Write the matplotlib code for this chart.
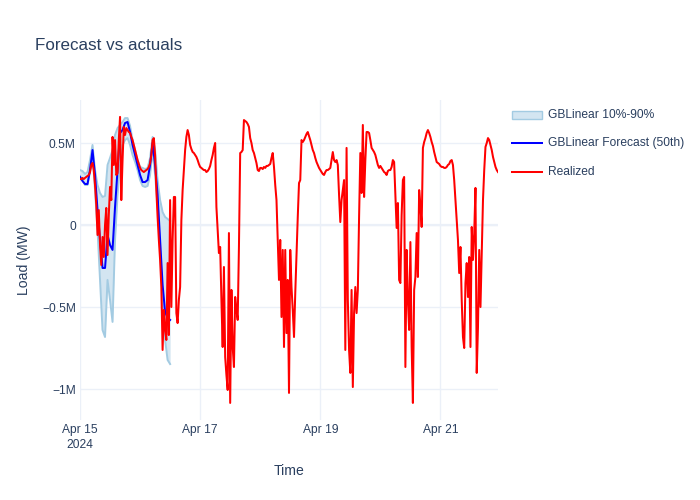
import matplotlib
matplotlib.use("Agg")
import matplotlib.pyplot as plt
from matplotlib.lines import Line2D
from matplotlib.patches import Rectangle
import pandas as pd
import numpy as np

# ---------------- data (values in thousands of MW) ----------------
start = "2024-04-15 00:00"
# realized load, half-hourly, one row per day
realized_d1 = [280, 280, 287, 280, 287, 293, 299, 305, 323, 366, 378, 335, 244, 122, -61, 91,
               -122, -244, -73, -195, 0, 104, -183, 61, 232, 152, 537, 366, 518, 305, 317, 518,
               659, 152, 396, 598, 549, 591, 579, 567, 561, 537, 518, 488, 457, 427, 396, 372]
realized_d2 = [348, 335, 329, 323, 329, 335, 341, 354, 378, 427, 518, 530, 427, 213, 49, -91,
               -213, -378, -762, -518, -640, -701, -232, -671, 152, -500, -91, 171, 171, -537, -598, -457,
               -378, 30, 213, 335, 457, 537, 579, 549, 488, 463, 445, 439, 427, 415, 396, 372]
realized_d3 = [354, 348, 341, 335, 335, 323, 329, 341, 360, 396, 427, 470, 500, 110, -30, -171,
               -134, -457, -744, -256, -805, -915, -1006, -49, -1085, -396, -744, -866, -439, -518, -579, -134,
               439, 445, 457, 640, 634, 628, 616, 598, 530, 500, 457, 439, 409, 378, 335, 329]
realized_d4 = [348, 348, 341, 354, 348, 360, 360, 366, 372, 409, 439, 354, 244, 152, -91, -335,
               -91, -561, -152, -744, -152, -659, -335, -1024, -152, -378, -518, -683, -415, -183, 49, 256,
               274, 518, 506, 518, 537, 555, 567, 543, 518, 488, 457, 439, 409, 384, 366, 348]
realized_d5 = [335, 323, 311, 305, 323, 335, 335, 341, 348, 396, 445, 396, 384, 396, 366, 183,
               18, 152, 213, 274, -762, 470, -457, -762, -902, -396, -988, -537, -378, -537, -396, 49,
               439, 195, 610, 171, 396, 567, 567, 561, 518, 470, 457, 445, 427, 396, 366, 348]
realized_d6 = [360, 348, 335, 323, 317, 305, 329, 335, 335, 354, 396, 384, 183, -18, 134, -335,
               -354, 61, 274, 293, -866, -152, -457, -640, -104, -744, -1085, -396, -317, -49, -317, 213,
               122, -12, 470, 506, 530, 561, 579, 561, 537, 506, 482, 445, 415, 384, 378, 372]
realized_d7 = [360, 354, 354, 348, 348, 354, 366, 372, 390, 396, 366, 274, 152, 30, -91, -293,
               -134, -457, -683, -750, -354, -232, -439, -195, -744, -12, -213, -49, 226, -902, -622, -152,
               -500, -171, 152, 335, 476, 500, 530, 518, 488, 457, 415, 384, 354, 335, 323]
# forecast median and 10%-90% band, hourly
forecast_k = [293, 268, 250, 250, 335, 457, 305, 91, -91, -262, -262, -61, -122, -152, 110, 335,
              561, 579, 622, 628, 567, 488, 427, 366,
              305, 262, 262, 274, 366, 500, 366, 183, -91, -366, -530, -567, -579]
upper_k = [335, 329, 311, 323, 396, 488, 335, 244, 195, 171, 177, 366, 409, 457, 549, 591,
           610, 628, 652, 652, 604, 518, 457, 396,
           354, 348, 341, 348, 409, 537, 457, 274, 152, 79, 49, 37, 24]
lower_k = [299, 274, 244, 244, 323, 427, 213, -30, -335, -640, -683, -335, -457, -591, -91, 183,
           366, 488, 518, 530, 488, 427, 384, 335,
           274, 238, 232, 238, 305, 457, 305, 122, -152, -457, -701, -823, -848]
ytick_vals = [-1e6, -0.5e6, 0, 0.5e6]
ytick_labels = ["\u22121M", "\u22120.5M", "0", "0.5M"]
xtick_dates = ["2024-04-15", "2024-04-17", "2024-04-19", "2024-04-21"]
xtick_labels = ["Apr 15\n2024", "Apr 17", "Apr 19", "Apr 21"]
legend_labels = ["GBLinear 10%-90%", "GBLinear Forecast (50th)", "Realized"]

realized_k = (realized_d1 + realized_d2 + realized_d3 + realized_d4 +
              realized_d5 + realized_d6 + realized_d7)
t_real = pd.date_range(start, periods=len(realized_k), freq="30min")
t_fc = pd.date_range(start, periods=len(forecast_k), freq="h")
realized = np.array(realized_k) * 1e3
forecast = np.array(forecast_k) * 1e3
upper = np.array(upper_k) * 1e3
lower = np.array(lower_k) * 1e3

# ---------------- styling ----------------
FONT = ["Liberation Sans", "DejaVu Sans"]
plt.rcParams["font.family"] = FONT
TXT = "#2a3f5f"
GRID = "#ebf0f8"
BAND_FILL = "#d3e5f1"
BAND_EDGE = "#a3cbe2"
W, H = 700, 500

def pt(px):
    return px * 72 / 100

fig = plt.figure(figsize=(7, 5), dpi=100)
fig.patch.set_facecolor("white")
L, R, T, B = 80, 498, 100, 420
ax = fig.add_axes([L / W, 1 - B / H, (R - L) / W, (B - T) / H])
ax.set_facecolor("white")

ax.fill_between(t_fc, lower, upper, color=BAND_FILL, lw=0, zorder=2)
ax.plot(t_fc, upper, color=BAND_EDGE, lw=1.4, zorder=3)
ax.plot(t_fc, lower, color=BAND_EDGE, lw=1.4, zorder=3)
ax.plot(t_fc, forecast, color="#0000ff", lw=1.45, zorder=4)
ax.plot(t_real, realized, color="#ff0000", lw=1.45, zorder=5)

ax.set_xlim(t_real[0], t_real[-1])
y_top = (225 - T) / 164 * 1e6
y_bot = (225 - B) / 164 * 1e6
ax.set_ylim(y_bot, y_top)

ax.set_yticks(ytick_vals)
ax.set_yticklabels(ytick_labels)
ax.set_xticks([pd.Timestamp(d) for d in xtick_dates])
ax.set_xticklabels(xtick_labels, linespacing=1.35)
ax.tick_params(axis="both", length=0, colors=TXT, labelsize=pt(12))
ax.tick_params(axis="y", pad=3)
ax.tick_params(axis="x", pad=3)
ax.grid(True, color=GRID, lw=1, zorder=0)
ax.axhline(0, color=GRID, lw=1.6, zorder=1)
for s in ax.spines.values():
    s.set_visible(False)
ax.set_axisbelow(True)

ax.set_xlabel("Time", color=TXT, fontsize=pt(14), labelpad=9)
ax.set_ylabel("Load (MW)", color=TXT, fontsize=pt(14), labelpad=8)

fig.text(35 / W, 1 - 45 / H, "Forecast vs actuals", color=TXT, fontsize=pt(17),
         va="center", ha="left")

# legend (manual, figure pixel coordinates)
leg_y = [115, 143, 172]
x0, x1, xt = 512, 542, 548
fig.add_artist(Rectangle((x0 / W, 1 - (leg_y[0] + 4) / H), (x1 - x0) / W, 8 / H,
                         transform=fig.transFigure, facecolor=BAND_FILL,
                         edgecolor=BAND_EDGE, lw=1.0))
fig.add_artist(Line2D([x0 / W, x1 / W], [1 - leg_y[1] / H] * 2,
                      transform=fig.transFigure, color="#0000ff", lw=1.45))
fig.add_artist(Line2D([x0 / W, x1 / W], [1 - leg_y[2] / H] * 2,
                      transform=fig.transFigure, color="#ff0000", lw=1.45))
for yy, lab in zip(leg_y, legend_labels):
    fig.text(xt / W, 1 - yy / H, lab, color=TXT, fontsize=pt(12), va="center", ha="left")

fig.savefig("out.png", dpi=100, facecolor="white")
